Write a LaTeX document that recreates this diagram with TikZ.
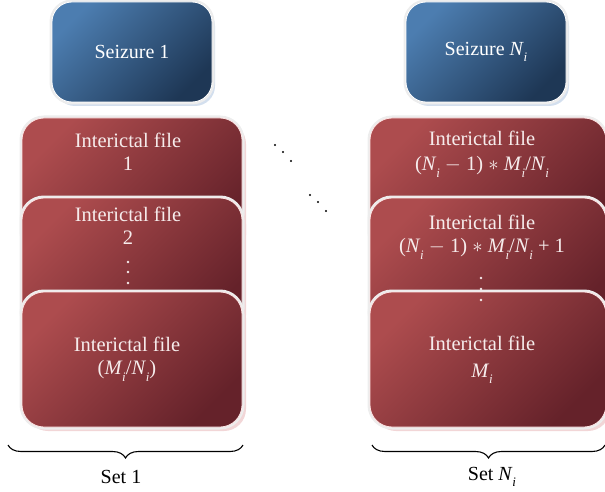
\documentclass[tikz,border=0pt]{standalone}
\usepackage{fontspec}
\setmainfont{Liberation Serif}
\usetikzlibrary{shadows,decorations.pathreplacing}
\definecolor{redlight}{HTML}{AD4C4E}
\definecolor{reddark}{HTML}{65222A}
\definecolor{redshadow}{HTML}{F2D6D7}
\definecolor{bluelight}{HTML}{4C7DB0}
\definecolor{bluedark}{HTML}{1E3755}
\definecolor{blueshadow}{HTML}{D3DFEE}
\definecolor{labeltext}{HTML}{F6ECEC}
% italic variable with a subscript i
\newcommand\vsub[1]{\textit{#1}\kern-0.3pt\raisebox{-0.3em}{\fontsize{13}{13}\selectfont\textit{i}}}
\begin{document}
\begin{tikzpicture}[x=1pt,y=-1pt,
  seizurebox/.style={minimum width=160pt,minimum height=100pt,rounded corners=20pt,
    draw=white,line width=0.8pt,
    drop shadow={shadow xshift=3pt,shadow yshift=-4pt,fill=blueshadow,opacity=1},
    preaction={draw=black!7,line width=5pt},
    top color=bluelight,bottom color=bluedark,shading angle=45,
    text=white,font=\fontsize{20}{22}\selectfont},
  filebox/.style={minimum height=135pt,rounded corners=22pt,
    draw=white!90!red,line width=0.8pt,
    drop shadow={shadow xshift=4pt,shadow yshift=-4pt,fill=redshadow,opacity=1},
    preaction={draw=black!7,line width=5pt},
    top color=redlight,bottom color=reddark,shading angle=45},
  filetext/.style={text=labeltext,font=\fontsize{20.5}{23.5}\selectfont,inner sep=0pt,align=center},
  settext/.style={text=black,font=\fontsize{20}{22}\selectfont,inner sep=0pt},
  wdot/.style={fill=labeltext},
  bdot/.style={fill=black},
  setbrace/.style={draw=black,line width=1.1pt,decorate,decoration={brace,amplitude=13pt}}]
\useasboundingbox (0,0) rectangle (605,492);

% seizure headers
\node[seizurebox] (s1) at (132,52) {Seizure 1};
\node[seizurebox] (sn) at (486,52) {Seizure \vsub{N}};

% first set of interictal files
\node[filebox,minimum width=220pt] (a1) at (132,185.5) {};
\node[filebox,minimum width=220pt] (a2) at (132,265.5) {};
\node[filebox,minimum width=220pt] (a3) at (132,359.5) {};

% last set of interictal files
\node[filebox,minimum width=236pt] (b1) at (488,185.5) {};
\node[filebox,minimum width=236pt] (b2) at (488,265.5) {};
\node[filebox,minimum width=236pt] (b3) at (488,359.5) {};

% labels of the first set
\node[filetext] (a1t) at (128,152) {Interictal file\\1};
\node[filetext] (a2t) at (128,226) {Interictal file\\2};
\node[filetext] (a3t) at (127,359) {Interictal file\\(\vsub{M}/\vsub{N})};

% labels of the last set
\node[filetext] (b1t) at (482,154) {Interictal file\\[2pt](\vsub{N} $-$ 1) $\ast$ \vsub{M}/\vsub{N}};
\node[filetext] (b2t) at (482,237) {Interictal file\\(\vsub{N} $-$ 1) $\ast$ \vsub{M}/\vsub{N} + 1};
\node[filetext] (b3t) at (482,360) {Interictal file\\[3pt]\vsub{M}};

% vertical ellipses inside the stacks
\foreach \yy in {262,272,283} \fill[wdot] (128,\yy) circle (1.3);
\foreach \yy in {278,289,300} \fill[wdot] (481,\yy) circle (1.3);

% diagonal ellipses between the sets
\foreach \xx/\yy in {275/145,283/152,291/161,310/195,318/202,326/211}
  \fill[bdot] (\xx,\yy) circle (1.1);

% braces and set labels
\coordinate (l1) at (8,445);
\coordinate (l2) at (243,445);
\coordinate (r1) at (372,445);
\coordinate (r2) at (605,445);
\draw[setbrace] (l2) -- (l1);
\draw[setbrace] (r2) -- (r1);
\node[settext] (set1) at (121,477) {Set 1};
\node[settext] (setn) at (492,477) {Set \vsub{N}};
\end{tikzpicture}
\end{document}
